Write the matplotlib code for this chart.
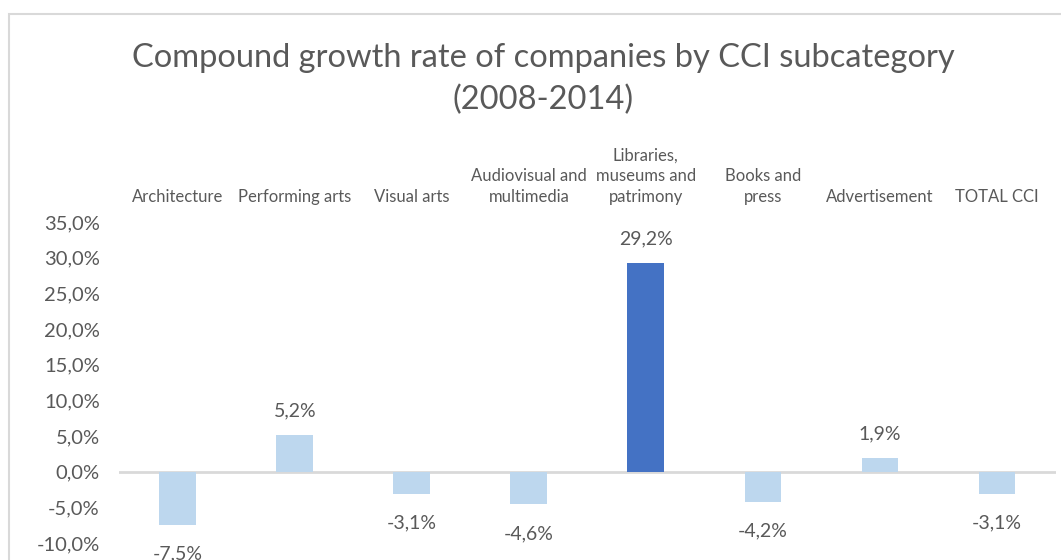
import numpy as np
import matplotlib
matplotlib.use('Agg')
from matplotlib import pyplot as plt
from matplotlib.patches import Rectangle

# Chart data
categories = ['Architecture', 'Performing arts', 'Visual arts', 'Audiovisual and\nmultimedia',
              'Libraries,\nmuseums and\npatrimony', 'Books and\npress', 'Advertisement', 'TOTAL CCI']
growth = [-7.5, 5.2, -3.1, -4.6, 29.2, -4.2, 1.9, -3.1]
highlight = 'Libraries,\nmuseums and\npatrimony'
y_ticks = [-10, -5, 0, 5, 10, 15, 20, 25, 30, 35]

TEXT = '#595959'
LIGHT = '#BDD7EE'
DARK = '#4472C4'
FONT = 'Lato'

plt.rcParams['font.family'] = [FONT, 'DejaVu Sans']

W, H = 1061, 560
fig = plt.figure(figsize=(W / 100, H / 100), dpi=100)

# outer chart border (Excel chart area)
fig.patches.append(Rectangle((9 / W, -0.1), 1.2, 1 - 14 / H + 0.1, transform=fig.transFigure,
                             fill=False, edgecolor='#d9d9d9', linewidth=1.5))

ax = fig.add_axes([119.2 / W, 1 - 543 / H, (1055.5 - 119.2) / W, (543 - 222) / H])

x = np.arange(len(categories))
colors = [DARK if c == highlight else LIGHT for c in categories]
bars = ax.bar(x, growth, width=0.314, color=colors, zorder=2)

ax.set_xlim(-0.5, len(categories) - 0.5)
ax.set_ylim(min(y_ticks), max(y_ticks))
ax.axhline(0, color='#d9d9d9', linewidth=2, zorder=1)

ax.set_yticks(y_ticks)
ax.set_yticklabels([f'{v:.1f}%'.replace('.', ',') for v in y_ticks], fontsize=14.5, color=TEXT)
ax.tick_params(axis='y', length=0, pad=14)

ax.xaxis.tick_top()
ax.set_xticks(x)
ax.set_xticklabels(categories, fontsize=12, color=TEXT, linespacing=1.38, va='bottom')
ax.tick_params(axis='x', length=0, pad=12)

for s in ax.spines.values():
    s.set_visible(False)

for b, v in zip(bars, growth):
    off = 24 if v >= 0 else -29
    ax.annotate(f'{v:.1f}%'.replace('.', ','), (b.get_x() + b.get_width() / 2, v),
                xytext=(0, off * 0.72), textcoords='offset points', ha='center', va='center',
                fontsize=14, color=TEXT, annotation_clip=False)

fig.text(543 / W, 1 - 79 / H, 'Compound growth rate of companies by CCI subcategory\n(2008-2014)',
         ha='center', va='center', fontsize=23.5, color=TEXT, linespacing=1.5)

fig.savefig('out.png', dpi=100)
